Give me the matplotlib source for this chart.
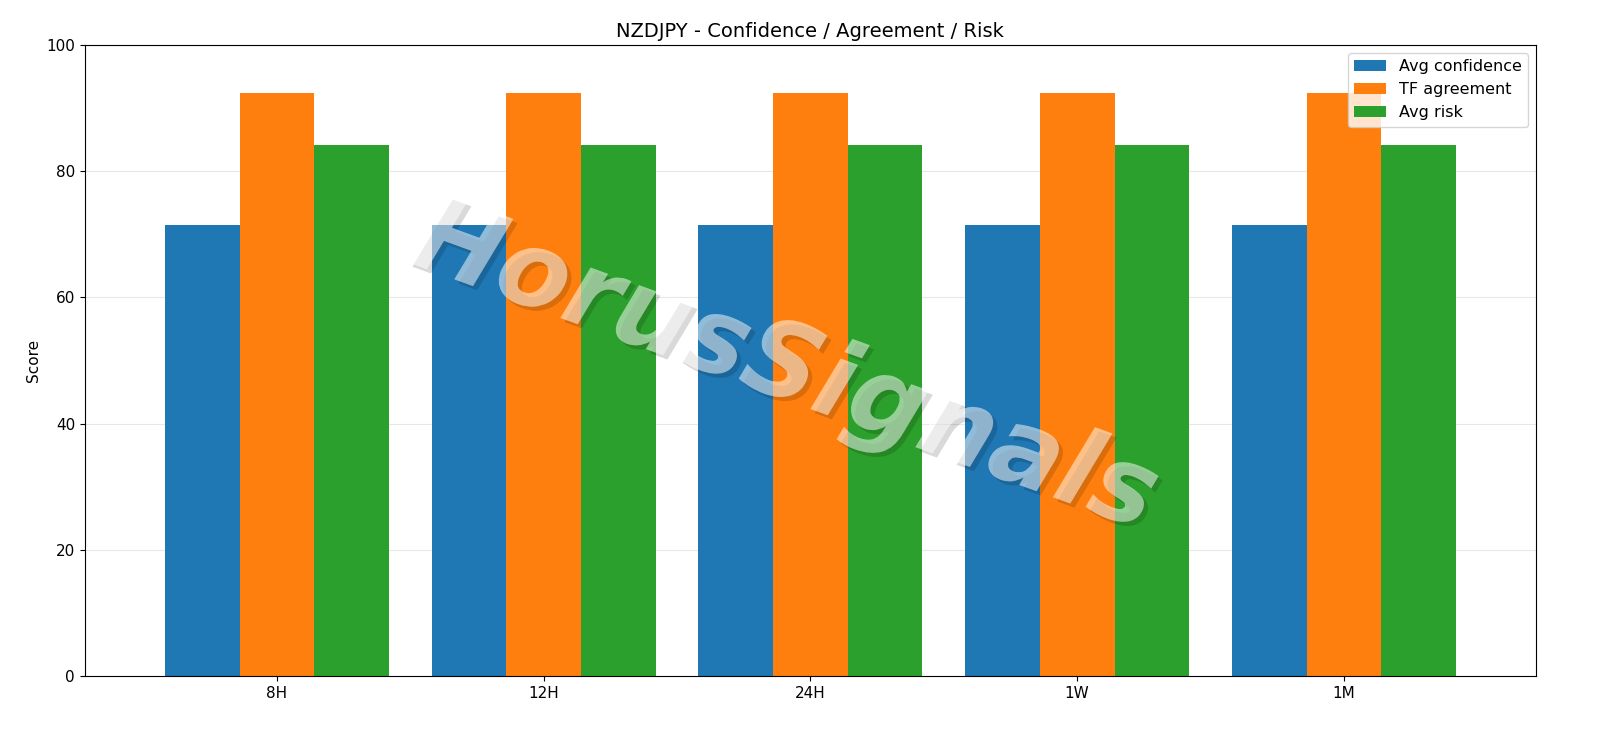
import matplotlib
matplotlib.use("Agg")
import matplotlib.pyplot as plt
import matplotlib.patheffects as pe
import numpy as np

categories = ["8H", "12H", "24H", "1W", "1M"]
avg_confidence = [71.5, 71.5, 71.5, 71.5, 71.5]
tf_agreement = [92.4, 92.4, 92.4, 92.4, 92.4]
avg_risk = [84.2, 84.2, 84.2, 84.2, 84.2]

fig, ax = plt.subplots(figsize=(16, 7.38), dpi=100)
fig.subplots_adjust(left=0.053, right=0.96, top=0.939, bottom=0.084)
x = np.arange(len(categories))
w = 0.28
ax.bar(x - w, avg_confidence, w, label="Avg confidence", color="#1f77b4", zorder=2)
ax.bar(x, tf_agreement, w, label="TF agreement", color="#ff7f0e", zorder=2)
ax.bar(x + w, avg_risk, w, label="Avg risk", color="#2ca02c", zorder=2)
ax.set_xticks(x)
ax.set_xticklabels(categories, fontsize=11)
ax.tick_params(axis="y", labelsize=11)
ax.set_ylim(0, 100)
ax.set_xlim(-0.72, 4.72)
ax.set_ylabel("Score", fontsize=11)
ax.set_title("NZDJPY - Confidence / Agreement / Risk", fontsize=14)
ax.grid(axis="y", alpha=0.3, zorder=0)
ax.legend(loc="upper right", fontsize=11.5)
fig.text(0.49, 0.5, "HorusSignals", fontsize=76, fontweight="bold", style="italic",
         color="white", alpha=0.3, rotation=-20, ha="center", va="center",
         path_effects=[pe.withSimplePatchShadow(offset=(3, -3), shadow_rgbFace="black", alpha=0.15), pe.Normal()])
fig.savefig("out.png")
